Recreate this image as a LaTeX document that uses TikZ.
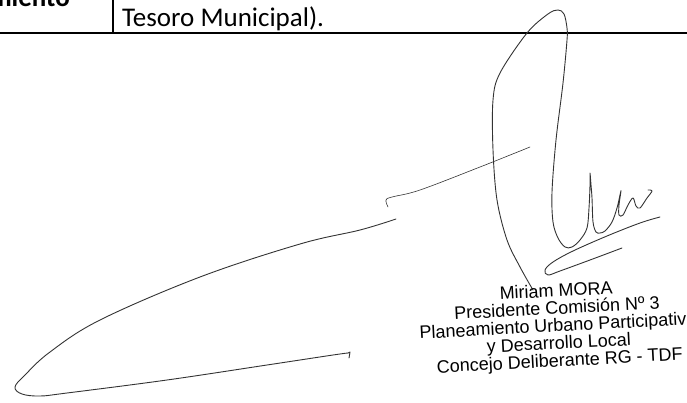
\documentclass[tikz,border=0pt]{standalone}
\usepackage{fontspec}
\setmainfont{Carlito}
\newfontfamily\stampfont{Liberation Sans}

\begin{document}
\begin{tikzpicture}[
    x=1pt, y=-1pt,
    cell/.style={anchor=base west, inner sep=0pt, font=\fontsize{27}{32}\selectfont},
    headcell/.style={anchor=base east, inner sep=0pt, font=\bfseries\fontsize{27}{32}\selectfont},
    rule/.style={black, line width=2pt},
    sig/.style={black!80, line width=0.9pt, line cap=round, line join=round},
    stamp/.style={align=center, inner sep=0pt, rotate=3, text=black, font=\stampfont\fontsize{18}{17.5}\selectfont},
    ]
    \useasboundingbox (0,0) rectangle (687,403);

    % Table fragment
    \node[headcell] (head) at (70,7) {miento};
    \node[cell] (source) at (122,27) {Tesoro Municipal).};
    \coordinate (colTop) at (113,0);
    \coordinate (colBot) at (113,33);
    \coordinate (rowL) at (0,33);
    \coordinate (rowR) at (687,33);
    \draw[black, line width=1.2pt] (colTop) -- (colBot);
    \draw[rule] (rowL) -- (rowR);

    % Signature - long lower flourish
    \draw[sig] plot[smooth, tension=0.6] coordinates {(396,219) (360,230) (300,244) (200,277) (100,320) (50,352) (25,375) (15,387) (22,394) (40,396) (67,393) (167,380) (267,365) (333,355) (348,353)};
    \draw[sig] (348,353) -- (350,352) -- (349,358);

    % Signature - upper thin stroke
    \draw[sig, line width=0.6pt] plot[smooth, tension=0.6] coordinates {(388,207) (386,200) (392,197) (420,190) (480,167) (530,147)};

    % Signature - big loop and letters
    \draw[sig] plot[smooth, tension=0.55] coordinates {(533,290) (520,267) (507,240) (497,200) (493,150) (493,100) (500,73) (527,33) (548,14) (558,10) (564,14) (567,28) (567,40) (563,83) (556,140) (552,192) (553,222) (558,238) (565,247) (572,247) (580,240) (587,228) (589,208) (590,185) (590,173) (591,185) (592,198) (593,222) (596,232) (600,233) (605,231) (612,222) (617,208) (620,195) (621,191) (619,205) (619,215) (623,215) (628,205) (633,198) (636,206) (640,208) (647,198) (652,191) (648,190)};

    % Signature - underline loop
    \draw[sig] plot[smooth, tension=0.6] coordinates {(660,217) (640,223) (607,236) (573,251) (553,262) (545,270) (548,275) (560,271) (590,260) (622,248)};

    % Stamp
    \node[stamp] (stamp) at (558,327) {Miriam MORA\\Presidente Comisión Nº 3\\Planeamiento Urbano Participativo\\y Desarrollo Local\\Concejo Deliberante RG - TDF};

\end{tikzpicture}
\end{document}
